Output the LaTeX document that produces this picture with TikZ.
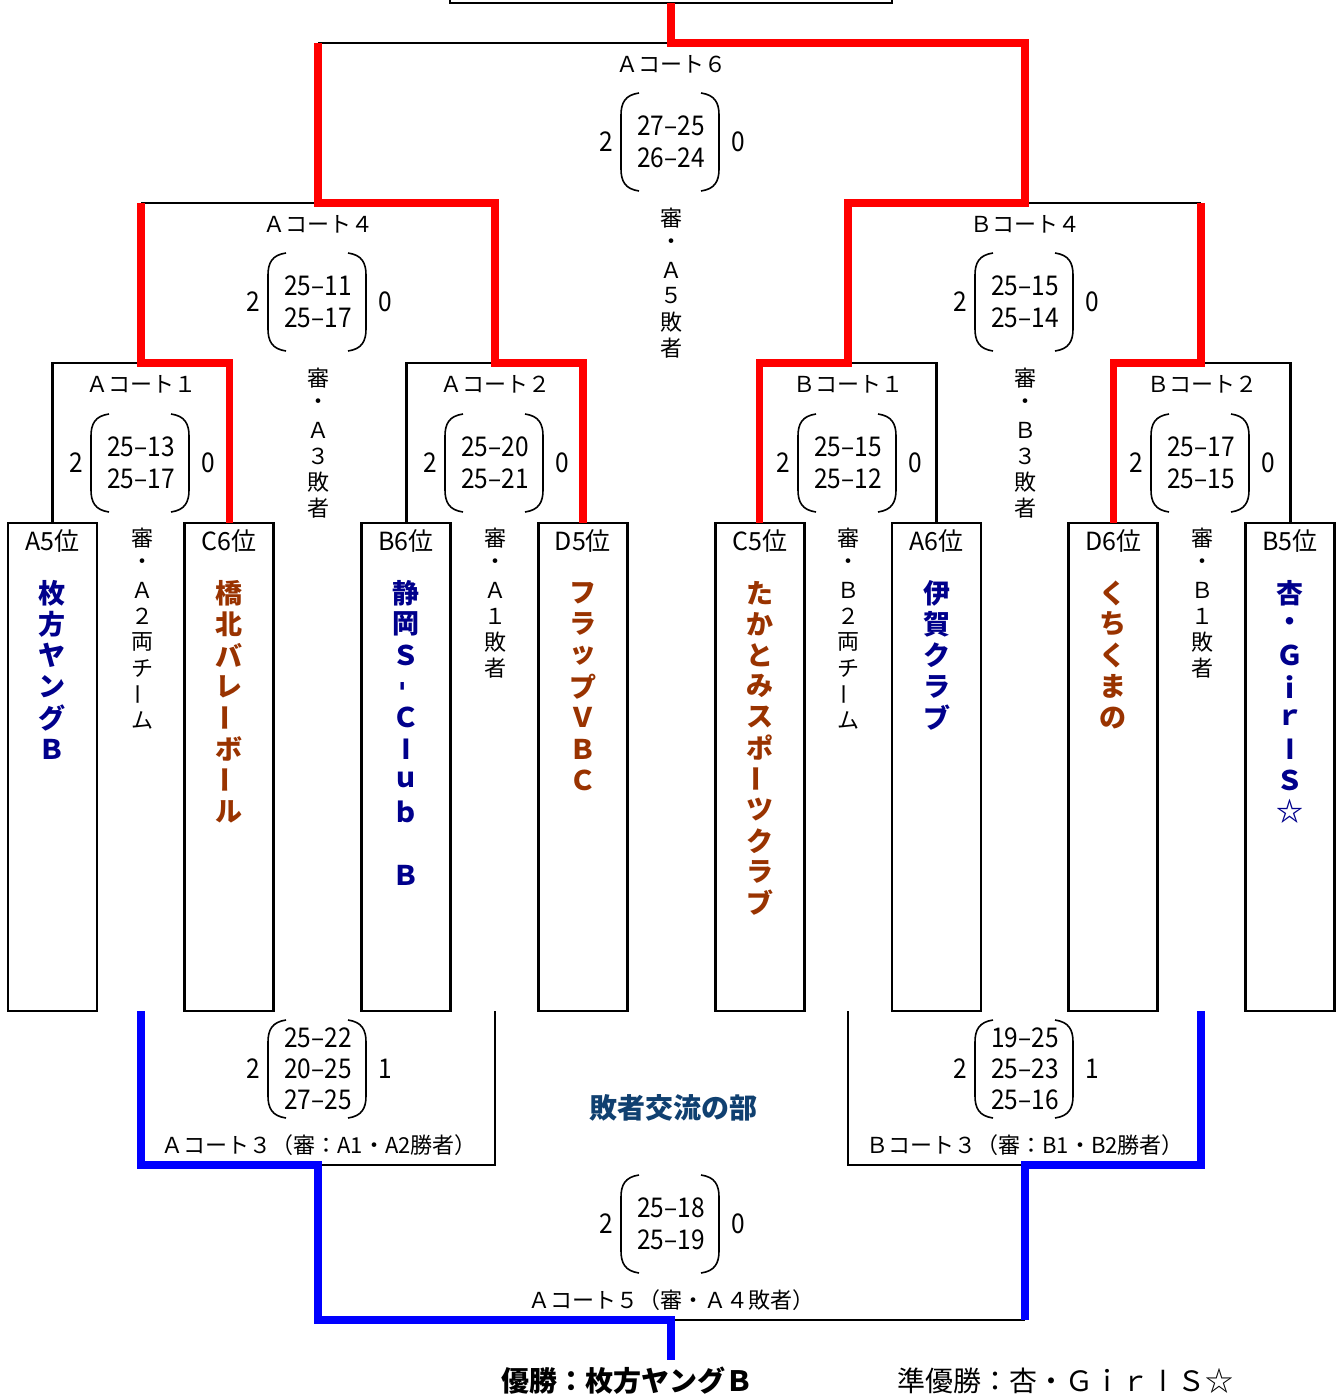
\documentclass[tikz,border=0pt]{standalone}
\usepackage{fontspec}
\setmainfont{Noto Sans CJK JP}
\newfontfamily\numfont[FakeStretch=0.9]{Noto Sans CJK JP}
\newfontfamily\latinfont{DejaVu Sans}
\usetikzlibrary{calc}
\definecolor{navyt}{RGB}{0,0,140}
\definecolor{brownt}{RGB}{153,51,0}
\definecolor{titleblue}{RGB}{16,64,112}
\definecolor{winred}{RGB}{255,0,0}
\definecolor{winblue}{RGB}{0,0,255}
\newcommand\longbar{\rotatebox[origin=c]{90}{ー}}
\newcommand\shortbar{\rotatebox[origin=c]{90}{-}}
\newcommand\straightl{{\latinfont l}}
\newcommand\vstack[6]{%
  \foreach \ch [count=\i] in {#6} {\node[#5] (#1-\i) at (#2,{#3+(\i-1)*#4}) {\ch};}%
}
\newcommand\scoreblk[7][score]{%
  \node[#1] (#2) at (#3,#4) {#5};
  \node[score] (#2-l) at (#3-65,#4) {#6};
  \node[score] (#2-r) at (#3+67,#4) {#7};
  \draw[paren] (#3-32,#4-49) .. controls (#3-46,#4-47) and (#3-50,#4-39) .. (#3-50,#4-27) -- (#3-50,#4+27) .. controls (#3-50,#4+39) and (#3-46,#4+47) .. (#3-32,#4+49);
  \draw[paren] (#3+30,#4-49) .. controls (#3+44,#4-47) and (#3+48,#4-39) .. (#3+48,#4-27) -- (#3+48,#4+27) .. controls (#3+48,#4+39) and (#3+44,#4+47) .. (#3+30,#4+49);
}
\tikzset{
  bk/.style={line width=1.4pt},
  rd/.style={line width=3.7pt, draw=winred},
  bl/.style={line width=3.7pt, draw=winblue},
  teambox/.style={draw, line width=1.4pt, minimum width=44.5pt, minimum height=244pt, inner sep=0pt, outer sep=0pt, anchor=north},
  poslab/.style={font=\fontsize{12.5pt}{14pt}\selectfont, inner sep=0pt},
  court/.style={font=\fontsize{11pt}{13pt}\selectfont, inner sep=0pt},
  refch/.style={font=\fontsize{11pt}{13pt}\selectfont, inner sep=0pt},
  nameb/.style={font=\bfseries\fontsize{13.5pt}{15pt}\selectfont, inner sep=0pt, text=navyt},
  namer/.style={font=\bfseries\fontsize{13.5pt}{15pt}\selectfont, inner sep=0pt, text=brownt},
  score/.style={font=\numfont\fontsize{13.6pt}{16pt}\selectfont, align=center, inner sep=0pt},
  scorethree/.style={font=\numfont\fontsize{13.6pt}{15.5pt}\selectfont, align=center, inner sep=0pt},
  paren/.style={line width=0.8pt},
  bigtitle/.style={font=\bfseries\fontsize{14pt}{16pt}\selectfont, inner sep=0pt},
  plaintitle/.style={font=\fontsize{14pt}{16pt}\selectfont, inner sep=0pt},
}
\begin{document}
\begin{tikzpicture}[x=0.5pt,y=-0.5pt]
\fill[white] (0,0) rectangle (1340,1396);
\useasboundingbox (0,0) rectangle (1340,1396);

% team boxes
\node[teambox] (A5) at (52.5,523) {};
\node[teambox] (C6) at (229.3,523) {};
\node[teambox] (B6) at (406.1,523) {};
\node[teambox] (D5) at (582.9,523) {};
\node[teambox] (C5) at (759.7,523) {};
\node[teambox] (A6) at (936.5,523) {};
\node[teambox] (D6) at (1113.3,523) {};
\node[teambox] (B5) at (1290.1,523) {};

% position labels
\node[poslab] (A5p) at (52.5,541) {A5位};
\node[poslab] (C6p) at (229.3,541) {C6位};
\node[poslab] (B6p) at (406.1,541) {B6位};
\node[poslab] (D5p) at (582.9,541) {D5位};
\node[poslab] (C5p) at (759.7,541) {C5位};
\node[poslab] (A6p) at (936.5,541) {A6位};
\node[poslab] (D6p) at (1113.3,541) {D6位};
\node[poslab] (B5p) at (1290.1,541) {B5位};

% team names
\vstack{nA5}{52.5}{593}{31.2}{nameb}{枚,方,ヤ,ン,グ,Ｂ}
\vstack{nC6}{229.3}{593}{31.2}{namer}{橋,北,バ,レ,\longbar,ボ,\longbar,ル}
\vstack{nB6}{406.1}{593}{31.2}{nameb}{静,岡,Ｓ,\shortbar,Ｃ,\straightl,ｕ,ｂ}
\node[nameb] (nB6-last) at (406.1,875) {Ｂ};
\vstack{nD5}{582.9}{593}{31.2}{namer}{フ,ラ,ッ,プ,Ｖ,Ｂ,Ｃ}
\vstack{nC5}{759.7}{593}{31.0}{namer}{た,か,と,み,ス,ポ,\longbar,ツ,ク,ラ,ブ}
\vstack{nA6}{936.5}{593}{31.2}{nameb}{伊,賀,ク,ラ,ブ}
\vstack{nD6}{1113.3}{593}{31.2}{namer}{く,ち,く,ま,の}
\vstack{nB5}{1290.1}{593}{31.2}{nameb}{杏,・,Ｇ,ｉ,ｒ,\straightl,Ｓ,☆}

% referee columns
\vstack{rA2}{142}{538}{26}{refch}{審,・,Ａ,２,両,チ,\longbar,ム}
\vstack{rA3}{318}{378}{26}{refch}{審,・,Ａ,３,敗,者}
\vstack{rA1}{495}{538}{26}{refch}{審,・,Ａ,１,敗,者}
\vstack{rA5}{671}{218}{26}{refch}{審,・,Ａ,５,敗,者}
\vstack{rB2}{848}{538}{26}{refch}{審,・,Ｂ,２,両,チ,\longbar,ム}
\vstack{rB3}{1025}{378}{26}{refch}{審,・,Ｂ,３,敗,者}
\vstack{rB1}{1202}{538}{26}{refch}{審,・,Ｂ,１,敗,者}

% court labels
\node[court] (lA6) at (671,64) {Ａコート６};
\node[court] (lA4) at (318,224) {Ａコート４};
\node[court] (lB4) at (1025,224) {Ｂコート４};
\node[court] (lA1) at (141,384) {Ａコート１};
\node[court] (lA2) at (495,384) {Ａコート２};
\node[court] (lB1) at (848,384) {Ｂコート１};
\node[court] (lB2) at (1202,384) {Ｂコート２};
\node[court] (lA3) at (319,1145) {Ａコート３（審：A1・A2勝者）};
\node[court] (lB3) at (1025,1145) {Ｂコート３（審：B1・B2勝者）};
\node[court] (lA5) at (671,1300) {Ａコート５（審・Ａ４敗者）};

% scores
\scoreblk{sA6}{671}{142}{27–25\\26–24}{2}{0}
\scoreblk{sA4}{318}{302}{25–11\\25–17}{2}{0}
\scoreblk{sB4}{1025}{302}{25–15\\25–14}{2}{0}
\scoreblk{sA1}{141}{463}{25–13\\25–17}{2}{0}
\scoreblk{sA2}{495}{463}{25–20\\25–21}{2}{0}
\scoreblk{sB1}{848}{463}{25–15\\25–12}{2}{0}
\scoreblk{sB2}{1201}{463}{25–17\\25–15}{2}{0}
\scoreblk[scorethree]{sA3}{318}{1069}{25–22\\20–25\\27–25}{2}{1}
\scoreblk[scorethree]{sB3}{1025}{1069}{19–25\\25–23\\25–16}{2}{1}
\scoreblk{sA5}{671}{1224}{25–18\\25–19}{2}{0}

% titles
\node[bigtitle, text=titleblue] (cons) at (673,1108) {敗者交流の部};
\node[bigtitle] (champ) at (627,1381) {優勝：枚方ヤングＢ};
\node[plaintitle] (runner) at (1065,1381) {準優勝：杏・Ｇｉｒ\makebox[1em]{\straightl}Ｓ☆};

% junction coordinates
\coordinate (tbl) at (450,-5);
\coordinate (tbr) at (892,-5);
\coordinate (t6) at (671,3);
\coordinate (m6) at (671,43);
\coordinate (m4) at (318,203);
\coordinate (m5) at (1025,203);
\coordinate (m1) at (141,363);
\coordinate (m2) at (495,363);
\coordinate (m3) at (848,363);
\coordinate (m7) at (1201,363);
\coordinate (n3) at (318,1165);
\coordinate (n8) at (1025,1165);
\coordinate (n5) at (671,1320);
\coordinate (fin) at (671,1360);

% black lines
\draw[bk] (tbl) -- (tbl |- t6) -- (tbr |- t6) -- (tbr);
\draw[bk] (A5.north) |- (m1);
\draw[bk] (B6.north) |- (m2);
\draw[bk] (A6.north) |- (m3);
\draw[bk] (B5.north) |- (m7);
\draw[bk] (m1 |- m4) -- (m4);
\draw[bk] (m5) -- (m7 |- m5);
\draw[bk] (m4 |- m6) -- (m6);
\draw[bk] (n3) -| (m2 |- B6.south);
\draw[bk] (n8) -| (m3 |- C5.south);
\draw[bk] (n5) -- (n8 |- n5);

% red winners
\draw[rd] (C6.north) |- (m1) -- (m1 |- m4);
\draw[rd] (D5.north) |- (m2) |- (m4) -- (m4 |- m6);
\draw[rd] (C5.north) |- (m3) |- (m5) -- (m5 |- m6) -- (m6) -- (t6);
\draw[rd] (D6.north) |- (m7) -- (m7 |- m5);

% blue winners
\draw[bl] (m1 |- A5.south) |- (n3) -- (n3 |- n5) -- (n5) -- (fin);
\draw[bl] (m7 |- D6.south) |- (n8) -- (n8 |- n5);
\end{tikzpicture}
\end{document}
